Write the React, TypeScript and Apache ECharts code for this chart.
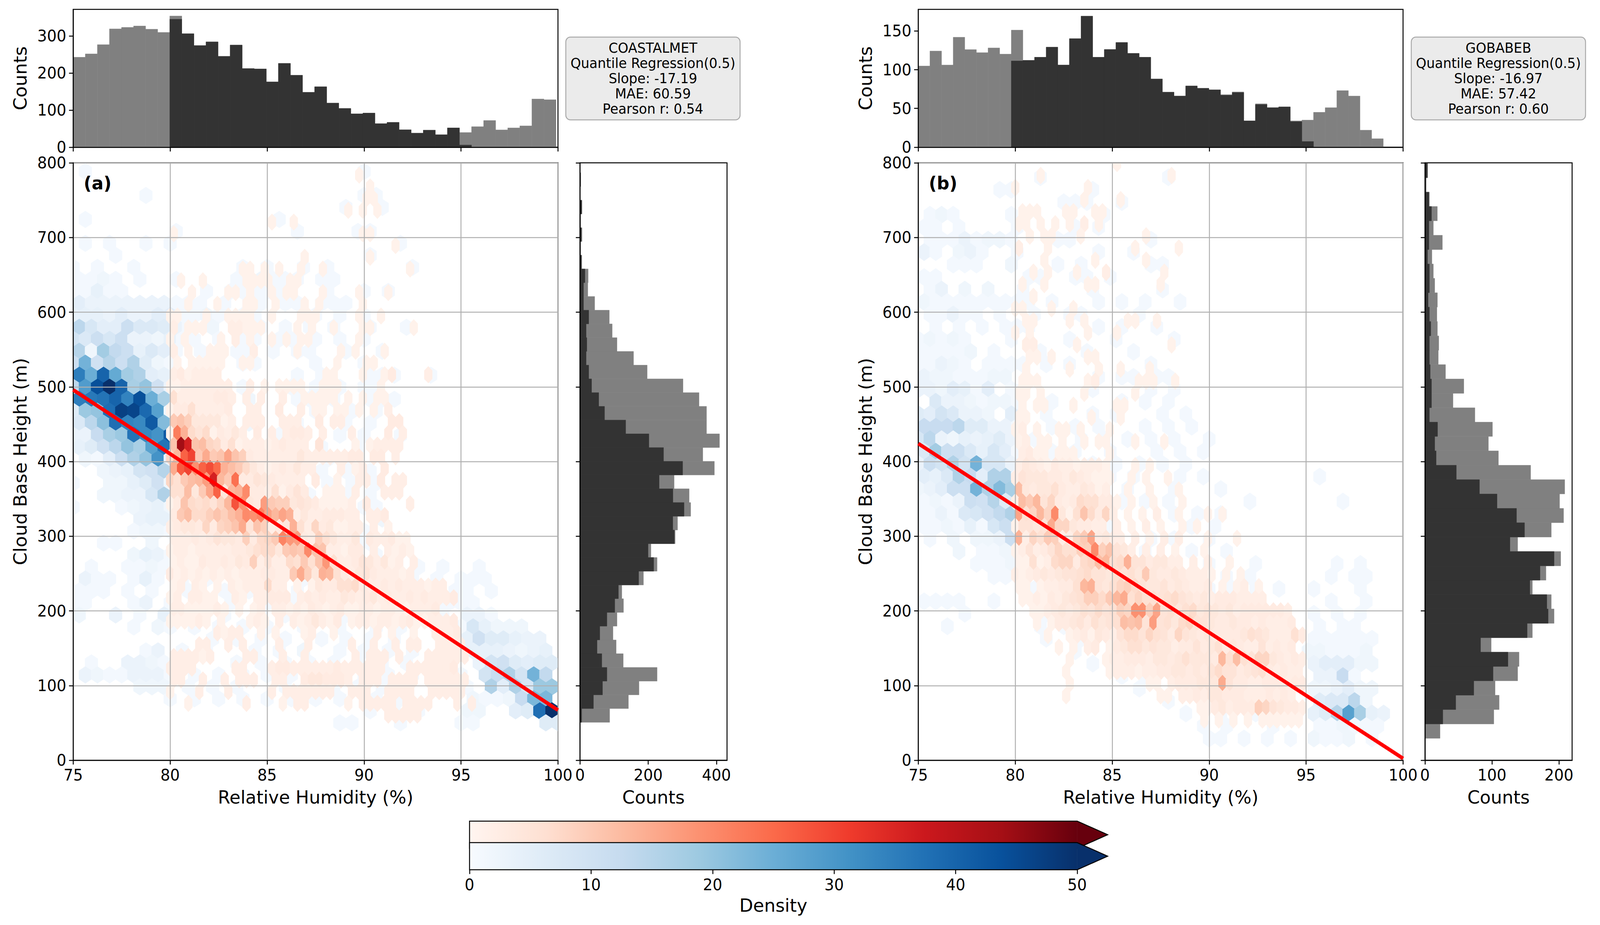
import React, { useEffect, useRef } from "react";
import * as echarts from "echarts";

// ---- histogram values ----
const topGrayA = [242.5,251.6,276.5,319,323,326.7,318,309.5,353.7,306,274,284,245,275.4,212,211,176,226,194,148,163,119,104.5,90,92,63.5,67,47,38,46,33.7,52,39.6,55.4,72,46.7,52,57.5,130,128];
const topDarkA = [0,0,0,0,0,0,0,0,345,306,274,284,245,275.4,212,211,176,226,194,148,163,119,104.5,90,92,63.5,67,47,38,46,33.7,52,6,0,0,0,0,0,0,0];
const topGrayB = [104.7,124,106,141.8,125.9,121.9,128,120,151,112,116,129,106,140,169,116,126,135,121,116,88,71,66,79,76,74,67.8,71.3,34,56,51,52,34,35,45,51,73,66,22,11];
const topDarkB = [0,0,0,0,0,0,0,0,111.3,112,116,129,106,140,169,116,126,135,121,116,88,71,66,79,76,74,67,70.5,34,55,51,52,33,7.4,0,0,0,0,0,0];
// side histograms, listed from the top bin down
const sideGrayA = [2.6,1,5.5,2,6,2,5.5,24,23,43,86,94.4,108.5,157,197,302,349,371,371,409,360,394,276,320,324.5,286,279,208,226,186,122.7,127.5,108.5,96.7,106,126.8,226,173,142,87];
const sideDarkA = [1,0.5,5.5,1,4,1,4,14.5,10.4,10.4,25.6,18,20,18,25.6,34,55,72,134,202,245,301,232,272.5,305,272,276.6,199.6,216,172,112.6,102,79,58,50,64,79,66,39.4,5];
const sideGrayB = [3.8,1.9,6.6,18.5,12.5,26,10.4,12.5,14.6,18.6,17.8,18.6,20.6,19.9,30.7,58,41.9,74.6,100.8,94.7,109.7,157.8,208.7,201,207,188.6,138.4,202.7,180.7,160.4,188.6,192.8,160.4,98.9,140.5,138.4,104.7,110.8,102.8,22.5];
const sideDarkB = [3.8,1,5.9,9.8,5.9,5.9,3.8,6.6,6.6,4.7,6.6,8.7,6.6,6.6,7.8,9.8,9.8,6.6,18.8,14.6,16.7,46.8,81.4,107.6,136.7,148.7,126.9,192.8,171.8,156.6,182,183.9,152.6,83,123.9,101.7,72.9,46,26.7,0.4];

// ---- regression lines: value at RH 75 and at RH 100 ----
const lineA = [496, 67];
const lineB = [424, 2.4];

// ---- hexbin densities, one string per hexagon row, one character per hexagon ----
// '.' is an empty cell, otherwise 1-9, a-z, A-O stand for densities 1 to 50
const blueA = [
".1......................1",
"",
"......1.................11",
"......................1..1",
".1...............1",
"........1.........1....11",
".1.1..1.1..................1",
"...1....................1",
"1.1..1........1.1..1.1......1",
"1121.1..1....1.2111.11",
"11411......1.111111..1..1.1",
"53333333111.1.11.11.111",
"4443533551121.11...11.1.1",
"e855b77631.2.1.1.1.1.1..1..1",
"97b8b332411.1.11.11.1.1.1",
"f2idb4751.1..11.1.11..1..1",
"boafbg621.....11....1...1",
"zpEqig542.........1.1...111..1",
"etIOEhka3.1...1...1.1.1.11",
"zABEyIph2.....2...11.1..111",
"6jkCLKDs2...2.......1..1.1",
"7elCyxGm1.1...2...1...1.1",
"33chjBxvG.1..1...1.1..1.1..1",
"46aekhsB1...1...1.1.1..1",
".215bgkv3.2.....1..1.1.1",
"..2349af2..1...1.1..1.1.1",
"1..2246a2.1..1..1.1..1.1.1",
"..22338g1.1...1..1.1.11.1",
"1...12342.1..1.1.1..1.1.11",
".....3441.1..1...1.1..1..2",
".....1221..1...1.1..1.1.1",
"..11..2.11...1.1.1..1..11.1",
".....2431.1...1.1...1.1..1",
".1..11211.1..1.1..1.1.1.1.1.1.1..1",
".311.141.1.1...1.1.1..1.1.1.1.1.111",
"111.1.1..1..1.1.1.1..1.1..1.1..11.1",
"11...13.1.1..1..1.1.1.1.1.1.1.1111",
"2..3.1.4.1..1..1.1..1.1.1.1.1.1.331",
".....1.21.1.1.1.1..1..1..1.1..1.184222",
"...........1.1.1.1..1.1.1.1...1.4a66433",
"......13.1.1...1.1.2..1.1.1.1....4443234",
".1..3321.1...1.1.1.1.1.1.1.1.....39a6566",
".32113331.1.1.1.1.1.1.1.1.1.1...1.9cg9od",
".....222.1.1.1...1.1.1.1.1.1....1.g5g8jj",
"........1.1.1.1.1.1.1.1..1.1.....2112cnn",
"........................1.1.1...22..56CO",
"......................11...1....11.....66",
];
const redA = [
"..........................1",
"...........................1",
"...........................11",
"........................1.1.1",
"..............1..1",
"1.........................11",
"...............................1",
"..................1........1",
"..........11.1.1..1..1...........1",
".1..1.....1111..11",
"...1....11.1..1.11...1....1...1",
"..1...1...11..1...1.1.....1",
"11...1..1111..1...111.....1..1",
"2.111...22111....1.1..1...11.....1",
"1.1....1.2.1..1.1.11......1",
"2.1..111...2.....1.....1.1...1",
".1.11111..11...........1...11",
"2312222..............11...1..13....2",
"112222222..2.1.1111..111.....1",
"622222332.2.2..2..11111.1.1.11",
"133622223..22..3..2.11.11.1.1.2",
"ab9444412.222..222..3.22......33",
"1me75713242.3.2.2332.2...2....3.2",
"bIAbc87361222123222.5....1.12222",
"8dquafabgb93222222422222233.33.2",
"frujqtpeca7421232422...2.12..3",
"86acdhAdao335432222.3..1..22.3.22",
"66c4agq4dek33261353..111.2...222",
"13b76758dsj43ha99454311112.3.....2",
"3ac779b9cekjlgdge242233322.223",
"234438389bf5b9234e628341122.2.1",
"22232354439378alih32964224.322311",
"1221222223346774abakbb22133.2.2121",
"121132232439252276a6bi6223542412.2",
"31212121212223322af94ed63245322212",
"12.21.1.21222722.1.1433667322323222122",
"12.2211..21.22333.2323224323423223232223",
"22111121.1.12.22121321231122122112223",
"111121.1...121.2.2124213.122122123112223",
"......2122..1.1...12..1.....2.1..1..2223",
"....22..2.2....2...2.....2..2..2.22..2222",
"222212....22...2..2......2.222.2...222222",
"2222.....22...2332222223222222...2222223",
"22..2..2.222..22..3443332.222.2222.222222",
"1...2...2.....2.2222222..222..2222..22222",
"..1.......2....1.22.....1.22222.2222...2.2",
"..............................22222",
];
const blueB = [
"..........1..........1",
".......11......1",
"............111..1",
".121....1.......1",
"11.1....1....1.1",
".11131221...11......1",
"31.231..1......1..1",
"...111..2...1.1.....11",
"11.......11..11.1",
".13.2.2..1.....1.....1",
"2111111111.1...1.1.1..1",
".11311.1..1..11....1",
".1.1.1.111.....1.1..1",
"12121...1....1...1....1",
"11112.1...1...1...1",
"11321.1111.1.1......1",
"32211122.......1.11.11",
"3325415.11.....1....1.1",
".73321221..1.....1.1.1",
"6597332.5..1...1.1...1.1",
"ccce66331..1.1.1...1.1.1",
"8e3243463.1...1.1.1.1.1..1",
"7ibb74851..1.1..1...1.1.1",
"3b9g9o883.1..1.1.1.1.1.1",
"547gc5gg1...1...1.1...1.1.........1",
"235bbogmh.1...1.1.1...1...1",
"1213baf6...1.1...1.1.1......1.......1",
"113178adg.1...1.1.....1.1.1",
"1121418b..1.1...1......1.1",
".1.2.223b.1...1.....1.1..1",
"...2.112.....1.....1...1..1",
".....1112...1.....1.1.1..1...1......1.1",
"......11.....1..1..1...1..1.1......1.11",
"..........1...1...1..1.1.1.1.1.1..1...1",
"1111..1....1.1.1.1.1.1.1.1.1.......1..1",
"....1......1.1.1.1.1.1.1.1.1.1....1.1.1",
"..1.......1.1...1.1.1.1.1.1.1.1...1.11",
"...........1..1...1.1.1.1.1.1.1.1.111111",
".............1...1.1.1.1.1.1.1.1.221112",
"...............1.1.1.1.1.1.1......355522",
".................1.1...1.1.1.1.1..33c1",
"...................1...1.1.1.1.1..223522",
".....................1...1.1...1..677e2",
".......................1..1..1....46fsh43",
"........................1.1...1...112111",
".........................11.1.1.1.2112.1",
];
const redB = [
"..............1",
"...1.................1",
"1.........1",
".........1....1",
".111...11..11",
"11.1.1.1.2.1",
"..1.11...1........1",
"2...1...........1.....1",
"....1......1......1",
"..1.1...1...2.......1",
".1..1.....11........1",
"..1",
"11...1..1",
".11....1.1.....11..1",
"1.1.......1...1",
".22.....1............1",
"..11.1....11",
".1.....1...1..1...1",
".111......12.....111..1",
"11.1.....1......1",
".1.11...1.....11",
"11........1...1",
"12.1..11.1...1",
"12.11.1..1.11...1...1",
".2311.111....1",
"2432132212221...1.1",
"25444332432111..1.1..1",
"c434463224312..1..1...1",
"2cad58323766331.1..1...1",
"g68d8k416b7382.1.1.2..1...1.1",
"15545f8843322.2.1.2.1..1.1",
"e286a9228ag3422.2.1.2.2...1...1",
"12523586699k9b542.2.2.1...1",
"11612788378cd67e5534422.2.2..1",
"212343455675546564a433432221.1.1",
"11.122336de5468975445343223.1.12.1",
".112132456997adf6866567543423332222",
"..11234346575698jj9g564674543423333332",
"...1.1334536456cbc5h5647855433433232223",
"....1..123143257758653854343333465422263",
"......1.1.23.13466454423353463432252323",
".......1....1223332443464443d6c658843232",
".......1.....122212233443435755345632322",
".......1..........11.2333444f53322333233",
".......1............11.2232443332223232",
".........................113423339854332",
"..........................1.1.1.1.111111",
];
const densityTicks = [0, 10, 20, 30, 40, 50];
const statsA = ["COASTALMET", "Quantile Regression(0.5)", "Slope: -17.19", "MAE: 60.59", "Pearson r: 0.54"];
const statsB = ["GOBABEB", "Quantile Regression(0.5)", "Slope: -16.97", "MAE: 57.42", "Pearson r: 0.60"];

// ---- colours ----
const REDS = ["#fff5f0", "#fee0d2", "#fcbba1", "#fc9272", "#fb6a4a", "#ef3b2c", "#cb181d", "#a50f15", "#67000d"];
const BLUES = ["#f7fbff", "#deebf7", "#c6dbef", "#9ecae1", "#6baed6", "#4292c6", "#2171b5", "#08519c", "#08306b"];
const GRAY = "#808080";
const DARK = "#333333";
const FONT = "DejaVu Sans";
const TICK_PX = 40;
const LABEL_PX = 47;
const SPINE = 2.5;
const DESIGN_W = 4205;
const DESIGN_H = 2369;
const ALPHABET = "123456789abcdefghijklmnopqrstuvwxyzABCDEFGHIJKLMNOPQRSTUVWXYZ";

function hexToRgb(h: string) {
  return [parseInt(h.slice(1, 3), 16), parseInt(h.slice(3, 5), 16), parseInt(h.slice(5, 7), 16)];
}
function mapColor(stops: string[], v: number) {
  const t = Math.min(1, Math.max(0, v / 50)) * (stops.length - 1);
  const i = Math.min(stops.length - 2, Math.floor(t));
  const f = t - i;
  const a = hexToRgb(stops[i]);
  const b = hexToRgb(stops[i + 1]);
  return `rgb(${a.map((c, j) => Math.round(c + (b[j] - c) * f)).join(",")})`;
}

// lattice: rows[r] has x = x0 + step*k (+ step/2 on offset rows), y = yTop - rowStep*r
function cells(rows: string[], x0: number, step: number, yTop: number, rowStep: number, offsetOdd: boolean) {
  const out: number[][] = [];
  rows.forEach((row, r) => {
    const shifted = (r % 2 === 1) === offsetOdd;
    for (let k = 0; k < row.length; k++) {
      const idx = ALPHABET.indexOf(row[k]);
      if (idx < 0) continue;
      out.push([x0 + step * k + (shifted ? step / 2 : 0), yTop - rowStep * r, idx + 1]);
    }
  });
  return out;
}

function hexSeries(id: number, data: number[][], stops: string[], step: number, rowStep: number) {
  return {
    type: "custom",
    xAxisIndex: id,
    yAxisIndex: id,
    clip: true,
    silent: true,
    z: 2,
    data,
    dimensions: ["x", "y", "v"],
    encode: { x: 0, y: 1 },
    renderItem: (_p: any, api: any) => {
      const c = api.coord([api.value(0), api.value(1)]);
      const s = api.size([step, rowStep * 2]);
      const w = s[0] / 2;
      const h = s[1] / 3;
      const col = mapColor(stops, api.value(2));
      return {
        type: "polygon",
        shape: {
          points: [
            [c[0] + w, c[1] - h / 2],
            [c[0] + w, c[1] + h / 2],
            [c[0], c[1] + h],
            [c[0] - w, c[1] + h / 2],
            [c[0] - w, c[1] - h / 2],
            [c[0], c[1] - h],
          ],
        },
        style: { fill: col, stroke: col, lineWidth: 2.6 },
      };
    },
  };
}

function topBars(id: number, values: number[], color: string, x0: number, step: number) {
  return {
    type: "custom",
    xAxisIndex: id,
    yAxisIndex: id,
    silent: true,
    z: 2,
    data: values.map((v, i) => [x0 + i * step, x0 + (i + 1) * step, v]).filter((d) => d[2] > 0),
    encode: { x: [0, 1], y: 2 },
    renderItem: (_p: any, api: any) => {
      const a = api.coord([api.value(0), api.value(2)]);
      const b = api.coord([api.value(1), 0]);
      return {
        type: "rect",
        shape: { x: a[0], y: a[1], width: b[0] - a[0], height: b[1] - a[1] },
        style: { fill: color, stroke: color, lineWidth: 0.6 },
      };
    },
  };
}

function sideBars(id: number, values: number[], color: string, yTop: number, step: number) {
  return {
    type: "custom",
    xAxisIndex: id,
    yAxisIndex: id,
    silent: true,
    z: 2,
    data: values.map((v, i) => [v, yTop - i * step, yTop - (i + 1) * step]).filter((d) => d[0] > 0),
    encode: { x: 0, y: [1, 2] },
    renderItem: (_p: any, api: any) => {
      const a = api.coord([0, api.value(1)]);
      const b = api.coord([api.value(0), api.value(2)]);
      return {
        type: "rect",
        shape: { x: a[0], y: a[1], width: b[0] - a[0], height: b[1] - a[1] },
        style: { fill: color, stroke: color, lineWidth: 0.6 },
      };
    },
  };
}

function axisBase(extra: any) {
  return {
    z: 3,
    axisLine: { show: true, onZero: false, lineStyle: { color: "#000", width: SPINE } },
    axisTick: { show: true, length: 11, lineStyle: { color: "#000", width: SPINE } },
    axisLabel: { show: true, fontFamily: FONT, fontSize: TICK_PX, color: "#000", margin: 18 },
    splitLine: { show: false },
    nameTextStyle: { fontFamily: FONT, fontSize: LABEL_PX, color: "#000" },
    ...extra,
  };
}

function frameGrid(left: number, top: number, width: number, height: number) {
  return { show: true, left, top, width, height, containLabel: false, borderColor: "#000", borderWidth: SPINE, backgroundColor: "transparent" };
}

function gradient(stops: string[]) {
  return {
    type: "linear", x: 0, y: 0, x2: 1, y2: 0,
    colorStops: stops.map((c, i) => ({ offset: i / (stops.length - 1), color: c })),
  };
}

function colorbarPiece(stops: string[], top: number) {
  const L = 1234, R = 2831, T = 2911, H = 69.5;
  return [
    { type: "rect", z: 5, silent: true, shape: { x: L, y: top, width: R - L, height: H }, style: { fill: gradient(stops) } },
    { type: "polygon", z: 5, silent: true, shape: { points: [[R - 0.5, top], [T, top + H / 2], [R - 0.5, top + H]] }, style: { fill: stops[stops.length - 1] } },
    { type: "polygon", z: 5, silent: true, shape: { points: [[L, top], [R, top], [T, top + H / 2], [R, top + H], [L, top + H]] }, style: { fill: "none", stroke: "#000", lineWidth: SPINE } },
  ];
}

function statBox(x: number, lines: string[]) {
  return [
    { type: "rect", z: 5, silent: true, shape: { x, y: 95, width: 458, height: 212, r: 12 }, style: { fill: "#ebebeb", stroke: "#a9a9a9", lineWidth: 2.5 } },
    {
      type: "text", z: 6, silent: true, x: x + 229, y: 201,
      style: { text: lines.join("\n"), fontFamily: FONT, fontSize: 35, lineHeight: 39, fill: "#000", align: "center", verticalAlign: "middle" },
    },
  ];
}

function panelLabel(x: number, text: string) {
  return { type: "text", z: 6, silent: true, x, y: 469, style: { text, fontFamily: FONT, fontWeight: "bold", fontSize: 46, fill: "#000", align: "left", verticalAlign: "middle" } };
}

function buildOption() {
  const xTicks = { min: 75, max: 100, interval: 5 };
  const grid = [
    frameGrid(192.4, 24, 1274, 353),
    frameGrid(192.4, 417, 1274, 1530),
    frameGrid(1524.3, 417, 386.4, 1530),
    frameGrid(2413.4, 24, 1274, 353),
    frameGrid(2413.4, 417, 1274, 1530),
    frameGrid(3745, 417, 386.7, 1530),
    { show: false, left: 1234, top: 2158, width: 1597, height: 69.5 },
  ];
  const mainSplit = { show: true, lineStyle: { color: "#b0b0b0", width: SPINE } };
  const tickAt = (customValues: number[]) => ({ show: true, length: 11, lineStyle: { color: "#000", width: SPINE }, customValues });
  const labelAt = (customValues: number[]) => ({ fontFamily: FONT, fontSize: TICK_PX, color: "#000", margin: 18, customValues });
  const NAME_X = 71;
  const NAME_Y = 115;
  const xAxis = [
    axisBase({ gridIndex: 0, type: "value", ...xTicks, axisLabel: { show: false } }),
    axisBase({ gridIndex: 1, type: "value", ...xTicks, splitLine: mainSplit, name: "Relative Humidity (%)", nameLocation: "middle", nameGap: NAME_X }),
    axisBase({ gridIndex: 2, type: "value", min: 0, max: 431, axisTick: tickAt([0, 200, 400]), axisLabel: labelAt([0, 200, 400]), name: "Counts", nameLocation: "middle", nameGap: NAME_X }),
    axisBase({ gridIndex: 3, type: "value", ...xTicks, axisLabel: { show: false } }),
    axisBase({ gridIndex: 4, type: "value", ...xTicks, splitLine: mainSplit, name: "Relative Humidity (%)", nameLocation: "middle", nameGap: NAME_X }),
    axisBase({ gridIndex: 5, type: "value", min: 0, max: 219.7, axisTick: tickAt([0, 100, 200]), axisLabel: labelAt([0, 100, 200]), name: "Counts", nameLocation: "middle", nameGap: NAME_X }),
    axisBase({ gridIndex: 6, type: "value", min: 0, max: 50, interval: 10, axisLine: { show: false }, name: "Density", nameLocation: "middle", nameGap: 68, axisTick: tickAt(densityTicks), axisLabel: labelAt(densityTicks) }),
  ];
  const topY = (max: number, ticks: number[]) =>
    axisBase({ type: "value", min: 0, max, axisTick: tickAt(ticks), axisLabel: labelAt(ticks), name: "Counts", nameLocation: "middle", nameGap: NAME_Y });
  const yAxis = [
    { ...topY(371.5, [0, 100, 200, 300]), gridIndex: 0 },
    axisBase({ gridIndex: 1, type: "value", min: 0, max: 800, interval: 100, splitLine: mainSplit, name: "Cloud Base Height (m)", nameLocation: "middle", nameGap: NAME_Y }),
    axisBase({ gridIndex: 2, type: "value", min: 0, max: 800, interval: 100, axisLabel: { show: false } }),
    { ...topY(177.7, [0, 50, 100, 150]), gridIndex: 3 },
    axisBase({ gridIndex: 4, type: "value", min: 0, max: 800, interval: 100, splitLine: mainSplit, name: "Cloud Base Height (m)", nameLocation: "middle", nameGap: NAME_Y }),
    axisBase({ gridIndex: 5, type: "value", min: 0, max: 800, interval: 100, axisLabel: { show: false } }),
    { gridIndex: 6, type: "value", min: 0, max: 1, show: false },
  ];
  const line = (id: number, ends: number[]) => ({
    type: "line", xAxisIndex: id, yAxisIndex: id, z: 5, silent: true, symbol: "none",
    data: [[75, ends[0]], [100, ends[1]]],
    lineStyle: { color: "#ff0000", width: 9.5, cap: "butt" },
  });
  const series = [
    topBars(0, topGrayA, GRAY, 75, 0.6225),
    topBars(0, topDarkA, DARK, 75, 0.6225),
    hexSeries(1, cells(blueA, 75, 0.625, 788.4, 16.05, true), BLUES, 0.625, 16.05),
    hexSeries(1, cells(redA, 80, 0.375, 783.5, 15.72, true), REDS, 0.375, 15.72),
    line(1, lineA),
    sideBars(2, sideGrayA, GRAY, 786.7, 18.4),
    sideBars(2, sideDarkA, DARK, 786.7, 18.4),
    topBars(3, topGrayB, GRAY, 75, 0.5995),
    topBars(3, topDarkB, DARK, 75, 0.5995),
    hexSeries(4, cells(blueB, 75, 0.6, 780.6, 16.7, false), BLUES, 0.6, 16.7),
    hexSeries(4, cells(redB, 80, 0.375, 799.2, 16.2, true), REDS, 0.375, 16.2),
    line(4, lineB),
    sideBars(5, sideGrayB, GRAY, 799.3, 19.25),
    sideBars(5, sideDarkB, DARK, 799.3, 19.25),
  ];
  const graphic = [
    ...statBox(1487, statsA),
    ...statBox(3709, statsB),
    panelLabel(220, "(a)"),
    panelLabel(2441, "(b)"),
    ...colorbarPiece(REDS, 2103),
    ...colorbarPiece(BLUES, 2158),
  ];
  return { animation: false, backgroundColor: "#fff", textStyle: { fontFamily: FONT }, grid, xAxis, yAxis, series, graphic };
}

export default function App() {
  const ref = useRef<HTMLDivElement>(null);
  useEffect(() => {
    document.body.style.margin = "0";
    document.documentElement.style.overflow = "hidden";
    // the browser window can be narrower than the reference: fit the whole figure in its width
    const fit = Math.min(1, window.innerWidth / DESIGN_W);
    ref.current!.style.transform = `scaleX(${fit})`;
    const chart = echarts.init(ref.current!, undefined, { renderer: "svg", width: DESIGN_W, height: DESIGN_H });
    chart.setOption(buildOption() as any);
    return () => chart.dispose();
  }, []);
  return <div ref={ref} style={{ position: "absolute", left: 0, top: 0, width: DESIGN_W, height: DESIGN_H, transformOrigin: "0 0" }} />;
}
